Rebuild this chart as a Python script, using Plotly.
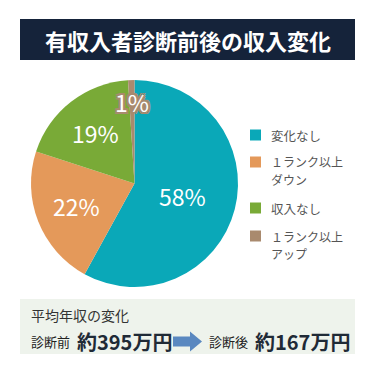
import math
import plotly.graph_objects as go

# ---- data ----
title_text = "有収入者診断前後の収入変化"
labels = ["変化なし", "１ランク以上<br>ダウン", "収入なし", "１ランク以上<br>アップ"]
values = [58, 22, 19, 1]
colors = ["#0aa8b8", "#e4995a", "#79aa37", "#a98a6e"]
label_radius = [0.48, 0.60, 0.62, 0.79]

summary_title = "平均年収の変化"
before_label = "診断前"
before_value = "約395万円"
after_label = "診断後"
after_value = "約167万円"

W = H = 375
JP = "Noto Sans CJK JP"

# pie geometry (pixels)
cx, cy, R = 134.5, 183.5, 103.5

fig = go.Figure()
fig.add_trace(go.Pie(
    labels=labels, values=values, sort=False, direction="clockwise", rotation=0,
    marker=dict(colors=colors, line=dict(width=0)),
    textinfo="none", hoverinfo="label+percent", showlegend=False,
    domain=dict(x=[(cx - R) / W, (cx + R) / W], y=[(H - cy - R) / H, (H - cy + R) / H]),
))

annotations = []
shapes = []

# percentage labels computed from the data
total = sum(values)
cum = 0
for i, v in enumerate(values):
    mid = (cum + v / 2) / total * 2 * math.pi
    cum += v
    px = cx + label_radius[i] * R * math.sin(mid)
    py = cy - label_radius[i] * R * math.cos(mid)
    font = dict(family=JP, size=23, color="white")
    if i == 3:
        c = colors[3]
        font["shadow"] = (f"-2px -2px 0 {c}, 2px -2px 0 {c}, -2px 2px 0 {c}, "
                          f"2px 2px 0 {c}, 0 2px 0 {c}, 0 -2px 0 {c}, 2px 0 0 {c}, -2px 0 0 {c}")
    annotations.append(dict(
        x=px / W, y=1 - py / H, xref="paper", yref="paper",
        text=f"{round(v / total * 100)}%", showarrow=False, font=font,
        xanchor="center", yanchor="middle",
    ))

# title banner
shapes.append(dict(type="rect", xref="paper", yref="paper",
                   x0=20 / W, x1=355 / W, y0=1 - 60 / H, y1=1 - 19 / H,
                   fillcolor="#15233a", line=dict(width=0), layer="below"))
annotations.append(dict(x=187.5 / W, y=1 - 40 / H, xref="paper", yref="paper",
                        text=f"<b>{title_text}</b>", showarrow=False,
                        font=dict(family=JP, size=22, color="white"),
                        xanchor="center", yanchor="middle"))

# legend (manual, one text line per annotation)
legend_top = [135, 162, 208, 236]
line_h = 17.5
for i, lab in enumerate(labels):
    y0 = legend_top[i]
    shapes.append(dict(type="rect", xref="paper", yref="paper",
                       x0=250 / W, x1=261 / W, y0=1 - (y0 + 5.5) / H, y1=1 - (y0 - 5.5) / H,
                       fillcolor=colors[i], line=dict(width=0)))
    for k, part in enumerate(lab.split("<br>")):
        annotations.append(dict(x=270 / W, y=1 - (y0 + k * line_h) / H, xref="paper", yref="paper",
                                text=part, showarrow=False, align="left",
                                borderpad=0,
                                font=dict(family=JP, size=12.5 if k == 0 and "<br>" not in lab else 12,
                                          color="#555555"),
                                xanchor="left", yanchor="middle"))

# summary box
shapes.append(dict(type="rect", xref="paper", yref="paper",
                   x0=20 / W, x1=355 / W, y0=1 - 354 / H, y1=1 - 299 / H,
                   fillcolor="#eef3ec", line=dict(width=0), layer="below"))
annotations.append(dict(x=29 / W, y=1 - 315 / H, xref="paper", yref="paper",
                        text=summary_title, showarrow=False,
                        font=dict(family=JP, size=14, color="#333333"),
                        xanchor="left", yanchor="middle"))
row_y = 1 - 341 / H
annotations.append(dict(x=29 / W, y=row_y, xref="paper", yref="paper",
                        text=before_label, showarrow=False,
                        font=dict(family=JP, size=13, color="#222222"),
                        xanchor="left", yanchor="middle"))
annotations.append(dict(x=75 / W, y=row_y, xref="paper", yref="paper",
                        text=f"<b>{before_value}</b>", showarrow=False,
                        font=dict(family=JP, size=20, color="#1f2a36"),
                        xanchor="left", yanchor="middle"))
annotations.append(dict(x=207 / W, y=row_y, xref="paper", yref="paper",
                        text=after_label, showarrow=False,
                        font=dict(family=JP, size=13, color="#222222"),
                        xanchor="left", yanchor="middle"))
annotations.append(dict(x=253 / W, y=row_y, xref="paper", yref="paper",
                        text=f"<b>{after_value}</b>", showarrow=False,
                        font=dict(family=JP, size=20, color="#1f2a36"),
                        xanchor="left", yanchor="middle"))

# arrow (path in pixel -> paper)
def P(x, y):
    return f"{x / W:.5f},{1 - y / H:.5f}"
ay = 341.5
arrow = ("M " + P(173, ay - 5) + " L " + P(190, ay - 5) + " L " + P(190, ay - 10) +
         " L " + P(202, ay) + " L " + P(190, ay + 10) + " L " + P(190, ay + 5) +
         " L " + P(173, ay + 5) + " Z")
shapes.append(dict(type="path", xref="paper", yref="paper", path=arrow,
                   fillcolor="#5a88c0", line=dict(width=0)))

fig.update_layout(
    width=W, height=H, margin=dict(l=0, r=0, t=0, b=0),
    paper_bgcolor="white", plot_bgcolor="white",
    shapes=shapes, annotations=annotations,
)
fig.write_html("out.html", config={"displayModeBar": False},
               post_script="document.body.style.margin='0';document.body.style.overflow='hidden';")
